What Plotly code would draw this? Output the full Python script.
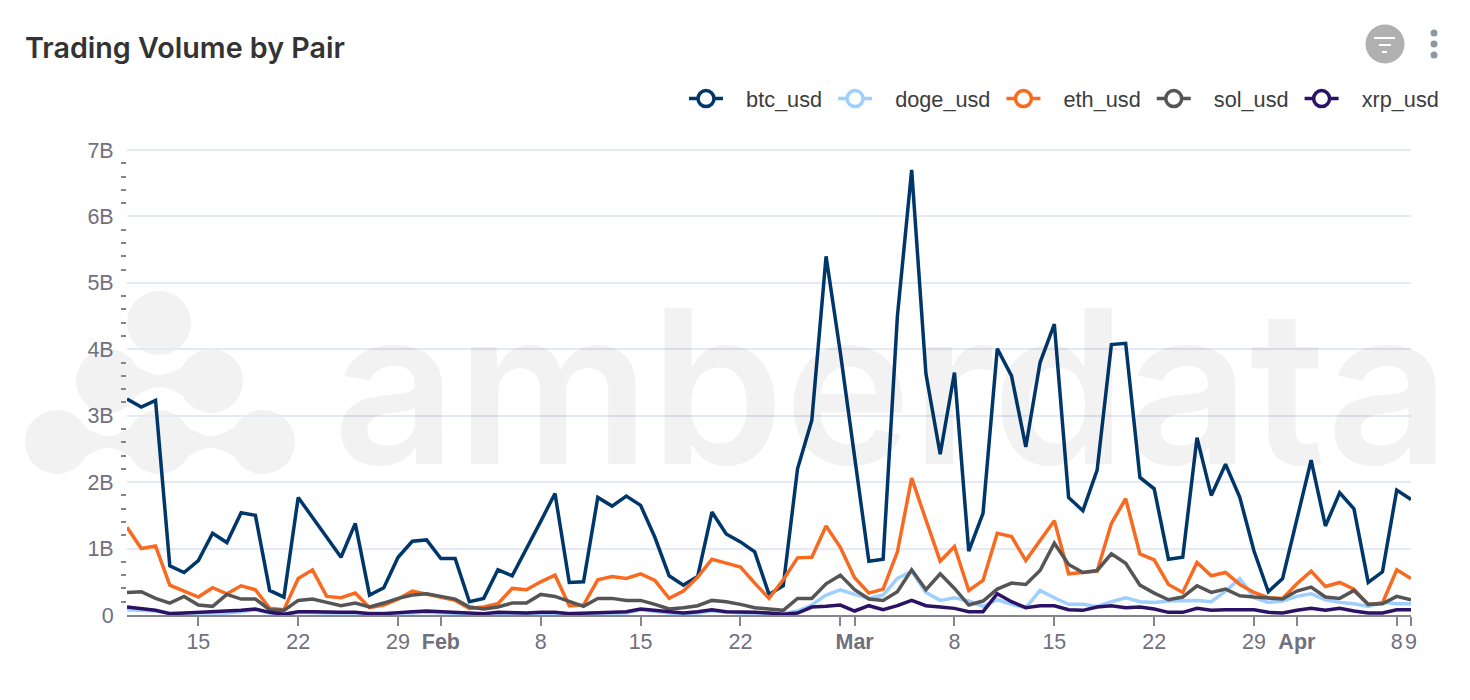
import pandas as pd
import plotly.graph_objects as go

# ---------- data (billions USD, one value per day from 2024-01-10) ----------
dates = pd.date_range("2024-01-10", "2024-04-09", freq="D")

btc_usd = [
    3.25, 3.13, 3.23, 0.74, 0.64, 0.82, 1.23, 1.09, 1.54, 1.50, 0.37, 0.27, 1.77, 1.48, 1.17, 0.87, 1.38, 0.30, 0.41, 0.87, 1.11, 1.13,
    0.85, 0.85, 0.20, 0.25, 0.68, 0.59, 0.99, 1.41, 1.83, 0.49, 0.50, 1.77, 1.64, 1.79, 1.65, 1.17, 0.59, 0.45, 0.58, 1.55, 1.22, 1.10, 0.95, 0.31, 0.44, 2.20, 2.93, 5.40, 3.95,
    2.40, 0.81, 0.84, 4.50, 6.70, 3.63, 2.42, 3.65, 0.96, 1.53, 4.01, 3.60, 2.53, 3.80, 4.38, 1.77, 1.57, 2.18, 4.07, 4.09, 2.07, 1.90, 0.84, 0.87, 2.67, 1.80, 2.27, 1.77, 0.96, 0.35, 0.55,
    1.45, 2.33, 1.34, 1.84, 1.60, 0.49, 0.65, 1.88, 1.74,
]
doge_usd = [
    0.08, 0.07, 0.06, 0.03, 0.03, 0.03, 0.03, 0.03, 0.05, 0.08, 0.03, 0.01, 0.04, 0.03, 0.03, 0.03, 0.03, 0.02, 0.02, 0.03, 0.03, 0.04,
    0.03, 0.03, 0.02, 0.01, 0.02, 0.02, 0.02, 0.03, 0.03, 0.02, 0.02, 0.03, 0.03, 0.03, 0.08, 0.05, 0.03, 0.02, 0.03, 0.06, 0.04, 0.03, 0.03, 0.02, 0.02, 0.06, 0.15, 0.30, 0.38,
    0.31, 0.25, 0.30, 0.55, 0.66, 0.34, 0.22, 0.26, 0.21, 0.13, 0.23, 0.16, 0.11, 0.37, 0.26, 0.16, 0.16, 0.13, 0.20, 0.26, 0.20, 0.19, 0.21, 0.22, 0.22, 0.20, 0.36, 0.55, 0.26, 0.19, 0.21,
    0.28, 0.32, 0.23, 0.19, 0.17, 0.13, 0.19, 0.17, 0.17,
]
eth_usd = [
    1.32, 1.00, 1.04, 0.45, 0.36, 0.27, 0.41, 0.32, 0.44, 0.38, 0.10, 0.08, 0.55, 0.68, 0.28, 0.26, 0.33, 0.11, 0.15, 0.24, 0.36, 0.31,
    0.26, 0.22, 0.10, 0.12, 0.17, 0.40, 0.38, 0.50, 0.60, 0.14, 0.15, 0.53, 0.58, 0.55, 0.62, 0.52, 0.25, 0.36, 0.57, 0.84, 0.78, 0.72, 0.48, 0.25, 0.53, 0.86, 0.87, 1.34, 1.02,
    0.56, 0.33, 0.39, 0.95, 2.06, 1.43, 0.81, 1.03, 0.37, 0.52, 1.23, 1.18, 0.82, 1.12, 1.42, 0.62, 0.64, 0.66, 1.38, 1.75, 0.92, 0.83, 0.46, 0.34, 0.79, 0.59, 0.64, 0.46, 0.34, 0.26, 0.25,
    0.47, 0.66, 0.43, 0.49, 0.39, 0.16, 0.18, 0.68, 0.55,
]
sol_usd = [
    0.34, 0.35, 0.25, 0.18, 0.28, 0.15, 0.13, 0.31, 0.24, 0.24, 0.08, 0.07, 0.22, 0.24, 0.19, 0.14, 0.18, 0.12, 0.18, 0.25, 0.30, 0.32,
    0.28, 0.24, 0.12, 0.09, 0.12, 0.18, 0.18, 0.31, 0.28, 0.20, 0.13, 0.25, 0.25, 0.22, 0.22, 0.16, 0.09, 0.11, 0.14, 0.22, 0.20, 0.16, 0.11, 0.09, 0.07, 0.25, 0.25, 0.47, 0.60,
    0.38, 0.24, 0.22, 0.35, 0.68, 0.38, 0.62, 0.40, 0.15, 0.21, 0.39, 0.48, 0.46, 0.67, 1.08, 0.76, 0.64, 0.67, 0.92, 0.78, 0.45, 0.33, 0.23, 0.27, 0.44, 0.34, 0.39, 0.29, 0.27, 0.25, 0.24,
    0.36, 0.42, 0.27, 0.25, 0.37, 0.16, 0.17, 0.28, 0.23,
]
xrp_usd = [
    0.12, 0.09, 0.07, 0.02, 0.03, 0.04, 0.04, 0.05, 0.07, 0.09, 0.04, 0.01, 0.05, 0.05, 0.04, 0.04, 0.04, 0.02, 0.02, 0.04, 0.05, 0.06,
    0.05, 0.05, 0.03, 0.02, 0.04, 0.03, 0.03, 0.04, 0.04, 0.02, 0.03, 0.04, 0.04, 0.05, 0.09, 0.07, 0.04, 0.03, 0.05, 0.08, 0.05, 0.05, 0.04, 0.03, 0.01, 0.03, 0.12, 0.13, 0.15,
    0.06, 0.14, 0.08, 0.14, 0.22, 0.14, 0.12, 0.10, 0.05, 0.05, 0.32, 0.20, 0.11, 0.14, 0.14, 0.08, 0.07, 0.12, 0.14, 0.11, 0.12, 0.09, 0.04, 0.04, 0.10, 0.07, 0.08, 0.08, 0.08, 0.04, 0.03,
    0.07, 0.10, 0.07, 0.10, 0.06, 0.03, 0.03, 0.08, 0.08,
]

tick_dates = ["2024-01-15", "2024-01-22", "2024-01-29", "2024-02-01", "2024-02-08", "2024-02-15", "2024-02-22", "2024-02-29",
              "2024-03-01", "2024-03-08", "2024-03-15", "2024-03-22", "2024-03-29", "2024-04-01", "2024-04-08", "2024-04-09"]
tick_labels = ["15", "22", "29", "<b>Feb</b>", "8", "15", "22", "", "<b>Mar</b>", "8", "15", "22", "29", "<b>Apr</b>", "8", "9"]

pairs = ["btc_usd", "doge_usd", "eth_usd", "sol_usd", "xrp_usd"]
values = [btc_usd, doge_usd, eth_usd, sol_usd, xrp_usd]
colors = ["#00376b", "#9ecfff", "#f96a21", "#555555", "#2c1265"]

# ---------- page geometry ----------
W, H = 1470, 700
L, R, T, B = 127, 59, 148, 85
TEXT_GREY = "#70707e"

def px(x):
    return (x - L) / (W - L - R)

def py(y):
    return 1 - (y - T) / (H - T - B)

def circle(cx, cy, r, color):
    return dict(type="circle", xref="paper", yref="paper", layer="below",
                x0=px(cx - r), x1=px(cx + r), y0=py(cy + r), y1=py(cy - r),
                fillcolor=color, line=dict(width=0))

def bar(x0, x1, y):
    return dict(type="line", xref="paper", yref="paper",
                x0=px(x0), x1=px(x1), y0=py(y), y1=py(y),
                line=dict(color="white", width=2))

def neck(x0, x1, y, color="#f2f2f3"):
    # concave bridge between two blobs of the logo
    m = (x0 + x1) / 2
    a, b = y - 26, y + 26
    def p(x, yy):
        return f"{px(x):.5f},{py(yy):.5f}"
    d = (f"M{p(x0, a)} C{p(x0 + 16, a)} {p(m - 16, y - 6)} {p(m, y - 6)} "
         f"C{p(m + 16, y - 6)} {p(x1 - 16, a)} {p(x1, a)} "
         f"L{p(x1, b)} C{p(x1 - 16, b)} {p(m + 16, y + 6)} {p(m, y + 6)} "
         f"C{p(m - 16, y + 6)} {p(x0 + 16, b)} {p(x0, b)} Z")
    return dict(type="path", xref="paper", yref="paper", layer="below",
                path=d, fillcolor=color, line=dict(width=0))

# ---------- watermark logo and header icons ----------
shapes = [circle(159, 323, 32, "#f2f2f3")]
for cx in (108, 211):
    shapes.append(circle(cx, 381, 32, "#f2f2f3"))
for cx in (57, 159, 263):
    shapes.append(circle(cx, 442, 32, "#f2f2f3"))
shapes += [neck(108, 211, 381), neck(57, 159, 442), neck(159, 263, 442)]

shapes.append(circle(1385, 44, 19.5, "#b0b0b0"))
shapes += [bar(1374, 1395, 38), bar(1379, 1391, 45), bar(1382, 1387, 52)]
for cy in (33, 44, 55):
    shapes.append(circle(1434, cy, 3.5, "#8a99a3"))

# ---------- build ----------
fig = go.Figure()
for name, vals, col in zip(pairs, values, colors):
    fig.add_trace(go.Scatter(x=dates, y=[v * 1e9 for v in vals], mode="lines", name=name,
                             legendgroup=name, showlegend=False, cliponaxis=False,
                             line=dict(color=col, width=3.5)))
# legend entries: open circle on a line, the data lines have no markers
for name, col in zip(pairs, colors):
    fig.add_trace(go.Scatter(x=[None], y=[None], mode="lines+markers",
                             name=f"\u00a0\u00a0\u00a0{name}\u00a0", legendgroup=name,
                             line=dict(color=col, width=3.5),
                             marker=dict(size=18, color="white", line=dict(color=col, width=3.5))))

fig.update_layout(
    width=W, height=H,
    margin=dict(l=L, r=R, t=T, b=B, pad=0),
    paper_bgcolor="white", plot_bgcolor="rgba(0,0,0,0)",
    font=dict(family="Liberation Sans, Arial, sans-serif", size=21.5, color=TEXT_GREY),
    title=dict(text="Trading Volume by Pair", xref="container", yref="container",
               x=25 / W, xanchor="left", y=1 - 48 / H, yanchor="middle",
               font=dict(family="Inter", size=28.7, weight=600, color="#333333")),
    legend=dict(orientation="h", xref="paper", yref="paper", x=px(1450), xanchor="right",
                y=py(99), yanchor="middle", itemwidth=34, bgcolor="rgba(0,0,0,0)",
                font=dict(size=21.7, color="#3c3c3c")),
    xaxis=dict(type="date", range=[dates[0], dates[-1]], tickmode="array",
               tickvals=tick_dates, ticktext=tick_labels, ticks="outside", ticklen=9,
               tickwidth=1.5, tickcolor="#85858f", showgrid=False, showline=True,
               linecolor="#85858f", linewidth=2, tickangle=0, ticklabelstandoff=-3),
    # top of range a hair above 7B, plotly drops a gridline right on the plot edge
    yaxis=dict(range=[0, 7.03e9], dtick=1e9, exponentformat="B", ticks="outside", ticklen=8,
               tickcolor="rgba(0,0,0,0)", gridcolor="#e5e8f5", gridwidth=2, zeroline=False,
               showline=False,
               minor=dict(tickmode="linear", tick0=0, dtick=2e8, ticks="outside", ticklen=5,
                          tickwidth=1.5, tickcolor="#85858f", showgrid=False)),
    shapes=shapes,
    annotations=[dict(text="amberdata", xref="paper", yref="paper", x=px(331), y=py(467),
                      xanchor="left", yanchor="middle", yshift=81, showarrow=False,
                      font=dict(family="Inter", size=215, weight=600, color="rgba(0,0,0,0.05)"))],
    hovermode="x",
)

fig.write_html("out.html", config=dict(displayModeBar=False),
               post_script="document.body.style.margin='0';")
